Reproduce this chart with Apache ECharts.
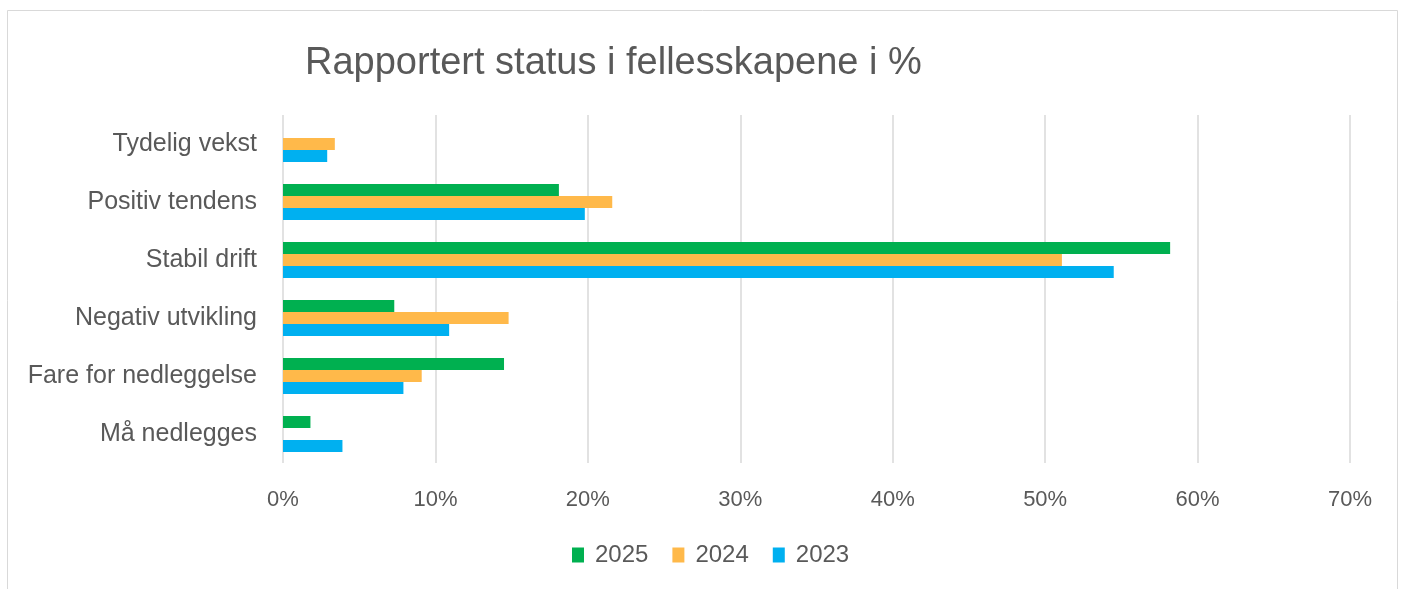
<!DOCTYPE html>
<html>
<head>
<meta charset="utf-8">
<script src="https://cdn.jsdelivr.net/npm/echarts@6/dist/echarts.min.js"></script>
<style>
html,body{margin:0;padding:0;background:#fff;}
#chart{width:1402px;height:589px;}
</style>
</head>
<body>
<div id="chart"></div>
<script>
const categories = ['Tydelig vekst','Positiv tendens','Stabil drift','Negativ utvikling','Fare for nedleggelse','Må nedlegges'];
const seriesNames = ['2025','2024','2023'];
const values2025 = [0, 18.1, 58.2, 7.3, 14.5, 1.8];
const values2024 = [3.4, 21.6, 51.1, 14.8, 9.1, 0];
const values2023 = [2.9, 19.8, 54.5, 10.9, 7.9, 3.9];
const xTicks = [0,10,20,30,40,50,60,70];
const colors = ['#00B050','#FFB94A','#00B0F0'];

const FONT = '"Liberation Sans", Arial, sans-serif';
const TXT = '#595959';
const chart = echarts.init(document.getElementById('chart'), null, {renderer:'canvas'});
const allValues = [values2025, values2024, values2023];
chart.setOption({
  animation:false,
  color: colors,
  textStyle:{fontFamily:FONT, color:TXT},
  graphic:[{type:'rect', z:-10, shape:{x:7.5,y:10.5,width:1390,height:600}, style:{fill:'#fff', stroke:'#d9d9d9', lineWidth:1}}],
  title:{text:'Rapportert status i fellesskapene i %', left:300, top:40, padding:[5,5,5,5],
    textStyle:{fontFamily:FONT, fontSize:38, fontWeight:'normal', color:TXT}},
  legend:{data:seriesNames, left:572, top:543, padding:0, itemWidth:12, itemHeight:15, itemGap:24,
    icon:'rect', textStyle:{fontFamily:FONT, fontSize:24, color:TXT, padding:[0,0,0,6]}},
  grid:{left:283, right:52, top:115, bottom:126, containLabel:false},
  xAxis:{type:'value', min:xTicks[0], max:xTicks[xTicks.length-1], interval:10,
    axisLine:{show:false}, axisTick:{show:false},
    splitLine:{show:true, lineStyle:{color:'#d9d9d9', width:1.5}},
    axisLabel:{formatter:'{value}%', fontSize:22, color:TXT, fontFamily:FONT, margin:26}},
  yAxis:{type:'category', data:categories, inverse:true,
    axisLine:{show:false}, axisTick:{show:false},
    axisLabel:{fontSize:25, color:TXT, fontFamily:FONT, margin:26}},
  series: seriesNames.map((n,i)=>({name:n, type:'bar', data:allValues[i], barWidth:12, barGap:'0%', barCategoryGap:'38%'}))
});
</script>
</body>
</html>
